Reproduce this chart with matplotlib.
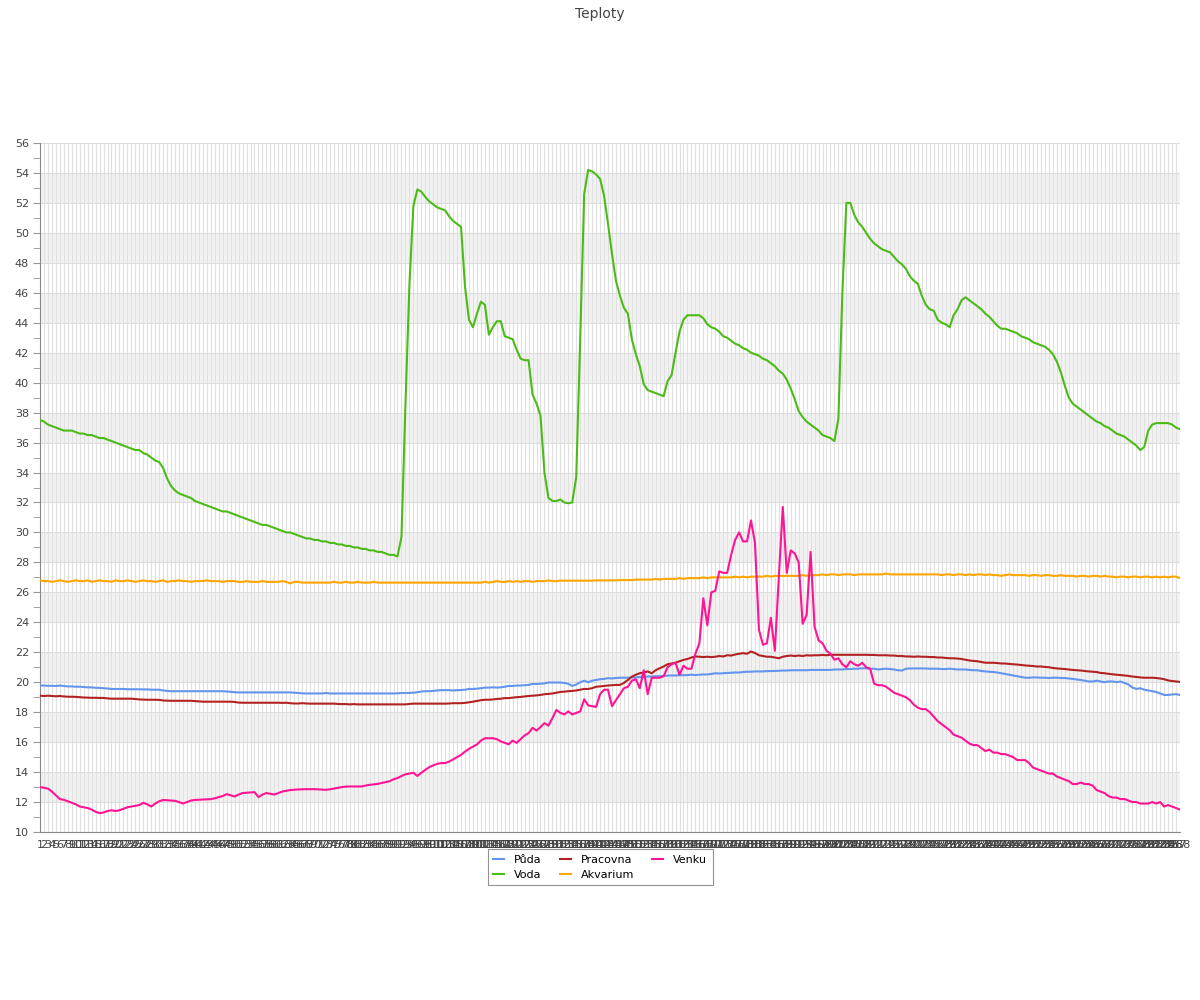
import numpy as np
import matplotlib
matplotlib.use("Agg")
import matplotlib.pyplot as plt
from matplotlib.ticker import MultipleLocator

title = "Teploty"
labels = [str(i) for i in range(1, 289)]

puda = [
19.78,19.78,19.76,19.76,19.75,19.78,19.75,19.72,19.72,19.7,
19.7,19.68,19.66,19.65,19.63,19.62,19.6,19.58,19.55,19.55,
19.55,19.55,19.53,19.53,19.53,19.53,19.52,19.52,19.5,19.5,
19.5,19.45,19.42,19.4,19.4,19.4,19.4,19.4,19.4,19.4,
19.4,19.4,19.4,19.4,19.4,19.4,19.4,19.38,19.36,19.33,
19.32,19.32,19.32,19.32,19.32,19.32,19.32,19.32,19.32,19.32,
19.32,19.32,19.32,19.32,19.3,19.28,19.26,19.25,19.25,19.25,
19.25,19.25,19.28,19.25,19.25,19.25,19.25,19.25,19.25,19.25,
19.25,19.25,19.25,19.25,19.25,19.25,19.25,19.25,19.25,19.25,
19.26,19.28,19.28,19.28,19.3,19.33,19.38,19.4,19.4,19.42,
19.45,19.47,19.47,19.47,19.45,19.47,19.48,19.5,19.55,19.55,
19.57,19.6,19.64,19.64,19.66,19.64,19.66,19.7,19.75,19.75,
19.78,19.78,19.8,19.82,19.88,19.88,19.9,19.92,19.98,19.98,
19.98,19.98,19.95,19.9,19.75,19.85,20.0,20.1,20.0,20.1,
20.15,20.2,20.22,20.27,20.25,20.28,20.3,20.3,20.3,20.32,
20.32,20.35,20.35,20.38,20.38,20.4,20.4,20.42,20.44,20.45,
20.45,20.47,20.47,20.48,20.5,20.48,20.5,20.52,20.52,20.55,
20.6,20.58,20.6,20.62,20.63,20.65,20.65,20.68,20.7,20.7,
20.72,20.72,20.72,20.74,20.75,20.75,20.76,20.78,20.78,20.8,
20.8,20.8,20.8,20.8,20.82,20.82,20.82,20.82,20.82,20.82,
20.85,20.85,20.85,20.88,20.88,20.9,20.9,20.93,20.93,20.9,
20.9,20.85,20.88,20.9,20.88,20.85,20.8,20.78,20.9,20.92,
20.92,20.92,20.92,20.92,20.9,20.9,20.9,20.88,20.88,20.9,
20.88,20.85,20.85,20.85,20.82,20.8,20.8,20.75,20.72,20.7,
20.68,20.65,20.6,20.55,20.5,20.45,20.4,20.35,20.3,20.3,
20.32,20.32,20.3,20.3,20.28,20.3,20.3,20.28,20.28,20.25,
20.22,20.18,20.15,20.1,20.05,20.05,20.1,20.05,20.0,20.05,
20.05,20.0,20.05,19.95,19.85,19.65,19.55,19.6,19.5,19.45,
19.4,19.35,19.25,19.15,19.15,19.18,19.2,19.15]

voda = [
37.5,37.4,37.2,37.1,37.0,36.9,36.8,36.8,36.8,36.7,
36.6,36.6,36.5,36.5,36.4,36.3,36.3,36.2,36.1,36.0,
35.9,35.8,35.7,35.6,35.5,35.5,35.3,35.2,35.0,34.8,
34.7,34.3,33.6,33.1,32.8,32.6,32.5,32.4,32.3,32.1,
32.0,31.9,31.8,31.7,31.6,31.5,31.4,31.4,31.3,31.2,
31.1,31.0,30.9,30.8,30.7,30.6,30.5,30.5,30.4,30.3,
30.2,30.1,30.0,30.0,29.9,29.8,29.7,29.6,29.6,29.5,
29.5,29.4,29.4,29.3,29.3,29.2,29.2,29.1,29.1,29.0,
29.0,28.9,28.9,28.8,28.8,28.7,28.7,28.6,28.5,28.5,
28.4,29.7,38.5,46.5,51.8,52.9,52.75,52.4,52.1,51.9,
51.7,51.6,51.5,51.1,50.8,50.6,50.4,46.4,44.2,43.7,
44.6,45.4,45.2,43.2,43.7,44.1,44.1,43.1,43.0,42.9,
42.2,41.6,41.5,41.5,39.2,38.6,37.8,34.0,32.3,32.1,
32.1,32.2,32.0,31.95,32.0,33.7,42.9,52.6,54.2,54.1,
53.9,53.6,52.5,50.6,48.6,46.8,45.8,45.0,44.6,42.9,
41.9,41.1,39.9,39.5,39.4,39.3,39.2,39.1,40.1,40.5,
42.0,43.4,44.2,44.5,44.5,44.5,44.5,44.3,43.9,43.7,
43.6,43.4,43.1,43.0,42.8,42.6,42.5,42.3,42.2,42.0,
41.9,41.8,41.6,41.5,41.3,41.1,40.8,40.6,40.2,39.6,
38.9,38.1,37.7,37.4,37.2,37.0,36.8,36.5,36.4,36.3,
36.1,37.6,46.0,52.0,52.0,51.2,50.7,50.4,50.0,49.6,
49.3,49.1,48.9,48.8,48.7,48.4,48.1,47.9,47.6,47.1,
46.8,46.6,45.8,45.2,44.9,44.8,44.2,44.0,43.9,43.7,
44.5,44.9,45.5,45.7,45.5,45.3,45.1,44.9,44.6,44.4,
44.1,43.8,43.6,43.6,43.5,43.4,43.3,43.1,43.0,42.9,
42.7,42.6,42.5,42.4,42.2,41.9,41.4,40.7,39.8,39.0,
38.6,38.4,38.2,38.0,37.8,37.6,37.4,37.3,37.1,37.0,
36.8,36.6,36.5,36.4,36.2,36.0,35.8,35.5,35.7,36.8,
37.2,37.3,37.3,37.3,37.3,37.2,37.0,36.9]

pracovna = [
19.1,19.08,19.1,19.08,19.06,19.08,19.05,19.03,19.03,19.02,
19.0,18.98,18.97,18.96,18.96,18.95,18.95,18.92,18.9,18.9,
18.9,18.9,18.9,18.9,18.88,18.85,18.84,18.83,18.83,18.83,
18.82,18.78,18.77,18.76,18.76,18.76,18.76,18.76,18.76,18.74,
18.72,18.7,18.7,18.7,18.7,18.7,18.7,18.7,18.7,18.68,
18.64,18.63,18.63,18.63,18.63,18.63,18.63,18.63,18.63,18.63,
18.63,18.62,18.63,18.6,18.58,18.58,18.6,18.58,18.57,18.57,
18.57,18.57,18.57,18.57,18.57,18.55,18.54,18.54,18.52,18.54,
18.52,18.52,18.52,18.52,18.52,18.52,18.52,18.52,18.52,18.52,
18.52,18.52,18.52,18.55,18.57,18.57,18.57,18.57,18.57,18.57,
18.57,18.57,18.57,18.58,18.6,18.6,18.6,18.62,18.66,18.7,
18.75,18.8,18.83,18.83,18.85,18.88,18.9,18.94,18.94,18.97,
19.0,19.02,19.05,19.08,19.1,19.12,19.15,19.2,19.22,19.25,
19.3,19.35,19.37,19.4,19.42,19.45,19.5,19.55,19.55,19.6,
19.7,19.72,19.75,19.78,19.8,19.82,19.82,19.95,20.15,20.37,
20.5,20.6,20.65,20.72,20.6,20.8,20.93,21.05,21.2,21.25,
21.3,21.4,21.49,21.55,21.65,21.72,21.7,21.68,21.7,21.68,
21.7,21.75,21.72,21.8,21.78,21.85,21.9,21.94,21.9,22.05,
21.95,21.8,21.75,21.7,21.7,21.65,21.6,21.7,21.75,21.78,
21.75,21.78,21.75,21.8,21.78,21.8,21.8,21.82,21.8,21.83,
21.83,21.83,21.83,21.83,21.83,21.83,21.83,21.83,21.83,21.82,
21.82,21.8,21.8,21.8,21.78,21.78,21.75,21.75,21.72,21.72,
21.7,21.72,21.7,21.7,21.68,21.68,21.65,21.65,21.62,21.6,
21.6,21.58,21.55,21.5,21.45,21.42,21.4,21.35,21.3,21.3,
21.3,21.28,21.25,21.25,21.22,21.2,21.18,21.15,21.12,21.1,
21.08,21.05,21.05,21.02,21.0,20.95,20.92,20.9,20.88,20.85,
20.82,20.8,20.78,20.75,20.72,20.7,20.68,20.62,20.6,20.56,
20.53,20.5,20.48,20.45,20.42,20.38,20.35,20.32,20.3,20.3,
20.3,20.28,20.25,20.2,20.12,20.08,20.05,20.02]

akvarium = [
26.8,26.75,26.75,26.7,26.75,26.8,26.75,26.7,26.75,26.8,
26.75,26.75,26.8,26.7,26.75,26.8,26.75,26.75,26.7,26.8,
26.75,26.75,26.8,26.75,26.7,26.75,26.8,26.75,26.75,26.7,
26.75,26.8,26.7,26.75,26.75,26.8,26.75,26.75,26.7,26.75,
26.75,26.75,26.8,26.75,26.75,26.75,26.7,26.75,26.75,26.75,
26.7,26.7,26.75,26.7,26.7,26.7,26.75,26.7,26.7,26.7,
26.7,26.75,26.7,26.6,26.7,26.7,26.65,26.65,26.65,26.65,
26.65,26.65,26.65,26.65,26.7,26.65,26.65,26.7,26.65,26.65,
26.7,26.65,26.65,26.65,26.7,26.65,26.65,26.65,26.65,26.65,
26.65,26.65,26.65,26.65,26.65,26.65,26.65,26.65,26.65,26.65,
26.65,26.65,26.65,26.65,26.65,26.65,26.65,26.65,26.65,26.65,
26.65,26.65,26.7,26.65,26.7,26.75,26.7,26.7,26.75,26.7,
26.75,26.7,26.75,26.75,26.7,26.75,26.75,26.75,26.8,26.75,
26.75,26.78,26.78,26.78,26.78,26.78,26.78,26.78,26.78,26.78,
26.8,26.8,26.8,26.8,26.8,26.8,26.82,26.82,26.82,26.82,
26.85,26.85,26.85,26.85,26.85,26.9,26.85,26.9,26.9,26.9,
26.9,26.95,26.9,26.95,26.95,26.95,26.95,27.0,26.95,27.0,
27.0,27.0,27.0,27.0,27.0,27.05,27.0,27.05,27.0,27.05,
27.05,27.05,27.05,27.1,27.05,27.1,27.1,27.1,27.1,27.1,
27.1,27.1,27.15,27.1,27.15,27.15,27.15,27.2,27.15,27.2,
27.2,27.15,27.2,27.2,27.2,27.15,27.2,27.2,27.2,27.2,
27.2,27.2,27.2,27.25,27.2,27.2,27.2,27.2,27.2,27.2,
27.2,27.2,27.2,27.2,27.2,27.2,27.2,27.15,27.2,27.2,
27.15,27.2,27.2,27.15,27.2,27.15,27.2,27.2,27.15,27.2,
27.15,27.15,27.1,27.15,27.2,27.15,27.15,27.15,27.15,27.1,
27.15,27.15,27.1,27.15,27.15,27.1,27.1,27.15,27.1,27.1,
27.1,27.05,27.1,27.1,27.05,27.1,27.1,27.05,27.1,27.05,
27.05,27.0,27.05,27.05,27.0,27.05,27.05,27.0,27.05,27.05,
27.0,27.05,27.0,27.05,27.0,27.05,27.05,26.95]

venku = [
13.0,12.95,12.9,12.7,12.45,12.2,12.15,12.05,11.95,11.85,
11.7,11.65,11.6,11.5,11.35,11.26,11.3,11.4,11.45,11.4,
11.45,11.55,11.65,11.7,11.75,11.8,11.95,11.85,11.7,11.9,
12.05,12.14,12.12,12.1,12.08,12.0,11.9,12.0,12.1,12.14,
12.15,12.17,12.18,12.19,12.25,12.33,12.4,12.53,12.45,12.37,
12.5,12.6,12.62,12.64,12.66,12.33,12.5,12.6,12.55,12.5,
12.6,12.7,12.75,12.8,12.82,12.84,12.85,12.86,12.86,12.86,
12.85,12.83,12.82,12.85,12.9,12.95,13.0,13.03,13.04,13.04,
13.04,13.04,13.1,13.15,13.18,13.21,13.27,13.33,13.39,13.52,
13.6,13.74,13.85,13.9,13.96,13.74,13.95,14.15,14.33,14.45,
14.55,14.6,14.6,14.7,14.85,15.0,15.15,15.37,15.55,15.7,
15.85,16.1,16.26,16.26,16.26,16.2,16.05,15.95,15.86,16.1,
15.95,16.2,16.45,16.6,16.95,16.77,17.0,17.27,17.1,17.6,
18.15,17.95,17.85,18.05,17.85,17.95,18.05,18.86,18.45,18.4,
18.35,19.2,19.5,19.5,18.4,18.8,19.2,19.6,19.7,20.1,
20.2,19.6,20.8,19.2,20.3,20.3,20.3,20.4,21.0,21.2,
21.3,20.5,21.1,20.9,20.9,21.9,22.6,25.6,23.8,26.0,
26.1,27.4,27.3,27.3,28.5,29.5,30.0,29.4,29.4,30.8,
29.3,23.5,22.5,22.6,24.3,22.1,27.0,31.7,27.3,28.8,
28.6,28.0,23.9,24.5,28.7,23.7,22.8,22.6,22.1,21.9,
21.5,21.6,21.2,21.0,21.4,21.2,21.1,21.3,21.0,20.9,
19.9,19.8,19.8,19.7,19.5,19.3,19.2,19.1,19.0,18.8,
18.5,18.3,18.2,18.2,18.0,17.7,17.4,17.2,17.0,16.8,
16.5,16.4,16.3,16.1,15.9,15.8,15.8,15.6,15.4,15.5,
15.3,15.3,15.2,15.2,15.1,15.0,14.8,14.8,14.8,14.6,
14.3,14.2,14.1,14.0,13.9,13.9,13.7,13.6,13.5,13.4,
13.2,13.2,13.3,13.2,13.2,13.1,12.8,12.7,12.6,12.4,
12.3,12.3,12.2,12.2,12.1,12.0,12.0,11.9,11.9,11.9,
12.0,11.9,12.0,11.7,11.8,11.7,11.6,11.5]

series_names = ["Půda", "Voda", "Pracovna", "Akvarium", "Venku"]
series_colors = ["#6495ED", "#4CBB17", "#B22222", "#FFA500", "#FF1493"]
series_data = [puda, voda, pracovna, akvarium, venku]

plt.rcParams['font.family'] = ['DejaVu Sans']
fig = plt.figure(figsize=(12, 10), dpi=100)
ax = fig.add_axes([40/1200, 1 - 832/1000, 1140/1200, 689/1000])

x = np.arange(len(labels))
ymin, ymax = 10, 56

# alternating bands
for lo in range(12, 56, 4):
    ax.axhspan(lo, lo + 2, color="#f2f2f2", zorder=0, lw=0)

ax.set_xlim(x[0], x[-1])
ax.set_ylim(ymin, ymax)

ax.set_xticks(x)
ax.set_xticklabels(labels, fontsize=8, color="#444444")
ax.tick_params(axis="x", length=0, pad=6)
ax.grid(axis="x", color="#e0e0e0", lw=0.8, zorder=0.5)

ax.yaxis.set_major_locator(MultipleLocator(2))
ax.yaxis.set_minor_locator(MultipleLocator(1))
ax.tick_params(axis="y", which="both", direction="out", length=5, color="#999999",
               labelsize=8, labelcolor="#444444", pad=3)
ax.grid(axis="y", which="major", color="#dddddd", lw=0.8, zorder=0.5)
ax.set_axisbelow(True)

for s in ["top", "right"]:
    ax.spines[s].set_visible(False)
ax.spines["left"].set_color("#888888")
ax.spines["bottom"].set_color("#888888")

handles = []
for name, col, data in zip(series_names, series_colors, series_data):
    h, = ax.plot(x, data, color=col, lw=1.5, label=name, zorder=3)
    handles.append(h)

fig.suptitle(title, y=0.993, fontsize=10, color="#444444", va="top")

leg = fig.legend(handles=handles, labels=series_names, ncol=3, loc="upper center",
                 bbox_to_anchor=(0.5, 1 - 849/1000), fontsize=8, frameon=True,
                 fancybox=False, edgecolor="#777777", handlelength=1.0,
                 columnspacing=1.6, borderpad=0.5, labelspacing=0.45, handletextpad=0.9,
                 borderaxespad=0)
leg.get_frame().set_linewidth(0.8)

fig.savefig("out.png", dpi=100, facecolor="white")
